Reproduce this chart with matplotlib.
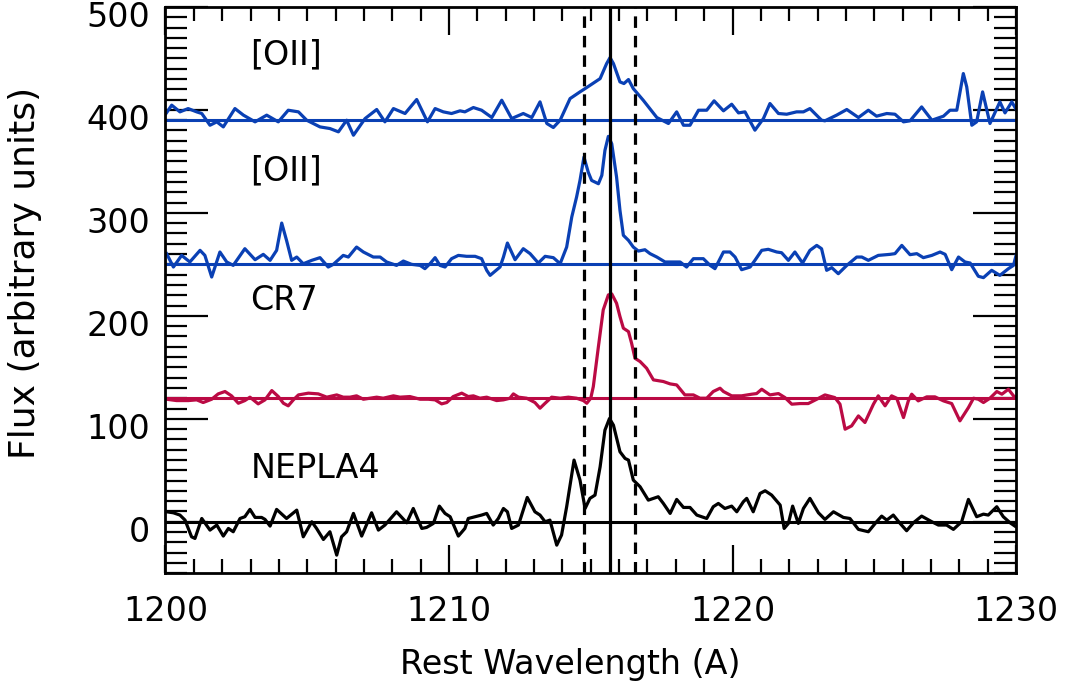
import numpy as np
import matplotlib
matplotlib.use("Agg")
import matplotlib.pyplot as plt
import matplotlib.transforms as mtransforms
from matplotlib.ticker import MultipleLocator

# ---- data (wavelength in A, flux in arbitrary units) ----
oii_top_wave = [1200.02, 1200.22, 1200.51, 1200.80, 1201.10, 1201.28, 1201.57, 1201.81, 1202.04,
                1202.45, 1202.75, 1203.16, 1203.57, 1203.98, 1204.33, 1204.69, 1204.98, 1205.45,
                1205.80, 1206.10, 1206.39, 1206.63, 1207.04, 1207.45, 1207.74, 1208.04, 1208.45,
                1208.86, 1209.24, 1209.51, 1209.80, 1210.09, 1210.39, 1210.56, 1210.86, 1211.15,
                1211.51, 1211.86, 1212.21, 1212.62, 1212.92, 1213.21, 1213.45, 1213.68, 1213.92,
                1214.27, 1214.62, 1214.80, 1215.03, 1215.33, 1215.56, 1215.68, 1215.80, 1216.03,
                1216.17, 1216.33, 1216.50, 1216.85, 1217.33, 1217.74, 1218.03, 1218.27, 1218.50,
                1218.80, 1219.09, 1219.35, 1219.68, 1219.97, 1220.21, 1220.44, 1220.79, 1221.09,
                1221.32, 1221.62, 1221.91, 1222.26, 1222.50, 1222.73, 1223.14, 1223.26, 1223.67,
                1224.03, 1224.44, 1224.79, 1225.08, 1225.44, 1225.73, 1226.03, 1226.26, 1226.67,
                1227.03, 1227.44, 1227.67, 1227.91, 1228.14, 1228.26, 1228.44, 1228.61, 1228.82,
                1229.08, 1229.43, 1229.61, 1229.85, 1230.02]
oii_top_flux = [396.5, 404.6, 398.1, 401.3, 398.1, 396.5, 385.1, 388.4, 383.5,
                401.3, 394.9, 388.4, 394.9, 388.4, 399.7, 398.1, 390.0, 383.5,
                381.9, 378.7, 390.0, 375.4, 391.6, 400.4, 388.4, 401.3, 396.5,
                410.1, 388.4, 401.3, 398.1, 396.5, 399.1, 398.1, 402.3, 399.7,
                392.6, 409.4, 391.6, 396.5, 392.6, 407.8, 386.8, 382.9, 390.0,
                411.0, 417.5, 420.7, 424.9, 430.4, 445.0, 450.8, 445.0, 427.2,
                425.6, 429.5, 420.7, 409.4, 392.6, 386.8, 398.1, 385.1, 385.1,
                399.7, 399.7, 408.8, 399.1, 405.5, 397.1, 398.1, 380.3, 391.6,
                406.2, 396.5, 395.8, 398.1, 398.1, 401.3, 390.0, 389.4, 394.9,
                400.4, 392.6, 399.7, 393.9, 396.5, 395.8, 388.4, 389.4, 402.9,
                390.0, 393.9, 399.7, 399.7, 435.3, 422.4, 385.1, 388.4, 417.5,
                386.8, 407.8, 397.1, 407.8, 399.7]

oii_mid_wave = [1200.04, 1200.28, 1200.57, 1200.86, 1201.22, 1201.39, 1201.63, 1201.92, 1202.16,
                1202.39, 1202.80, 1203.16, 1203.45, 1203.69, 1203.92, 1204.10, 1204.27, 1204.45,
                1204.63, 1204.86, 1205.16, 1205.45, 1205.74, 1205.92, 1206.27, 1206.45, 1206.74,
                1206.98, 1207.33, 1207.57, 1207.80, 1208.15, 1208.39, 1208.68, 1208.98, 1209.15,
                1209.33, 1209.51, 1209.68, 1209.86, 1210.09, 1210.33, 1210.62, 1210.92, 1211.15,
                1211.33, 1211.45, 1211.80, 1211.92, 1212.06, 1212.33, 1212.62, 1212.86, 1213.15,
                1213.39, 1213.68, 1213.92, 1214.15, 1214.33, 1214.50, 1214.62, 1214.76, 1214.91,
                1215.03, 1215.27, 1215.39, 1215.50, 1215.62, 1215.74, 1215.91, 1216.03, 1216.15,
                1216.33, 1216.50, 1216.68, 1216.91, 1217.09, 1217.33, 1217.62, 1217.91, 1218.15,
                1218.38, 1218.62, 1218.97, 1219.21, 1219.38, 1219.50, 1219.68, 1219.91, 1220.09,
                1220.32, 1220.62, 1220.79, 1221.03, 1221.26, 1221.56, 1221.73, 1221.97, 1222.20,
                1222.47, 1222.73, 1222.97, 1223.14, 1223.32, 1223.50, 1223.73, 1224.03, 1224.38,
                1224.56, 1224.79, 1225.14, 1225.55, 1225.73, 1225.97, 1226.26, 1226.50, 1226.73,
                1227.03, 1227.32, 1227.50, 1227.73, 1227.97, 1228.20, 1228.38, 1228.67, 1228.85,
                1229.14, 1229.43, 1229.73, 1229.91, 1230.00]
oii_mid_flux = [260.4, 247.4, 258.7, 252.3, 263.6, 258.7, 237.7, 262.0, 252.3,
                249.0, 265.2, 254.5, 259.7, 253.9, 263.6, 290.1, 273.3, 253.9,
                257.1, 250.6, 253.9, 256.5, 247.4, 250.0, 258.7, 257.1, 266.8,
                262.0, 257.1, 257.1, 252.3, 249.0, 253.2, 250.0, 249.0, 245.8,
                250.6, 256.5, 249.0, 247.4, 255.5, 258.7, 257.8, 257.8, 255.5,
                244.2, 239.3, 247.4, 257.1, 270.7, 254.5, 265.2, 260.4, 251.3,
                257.8, 256.5, 250.6, 266.8, 296.0, 315.4, 331.5, 354.2, 339.6,
                331.5, 328.3, 336.4, 360.7, 374.3, 367.1, 334.8, 302.4, 278.2,
                273.3, 266.8, 262.9, 264.2, 260.4, 257.1, 252.3, 252.3, 252.3,
                247.4, 255.5, 255.5, 249.0, 245.8, 252.3, 262.0, 262.0, 257.1,
                244.8, 247.4, 253.9, 263.6, 264.6, 262.0, 261.3, 253.9, 262.0,
                251.3, 263.6, 268.4, 265.2, 244.2, 246.8, 240.9, 249.0, 257.1,
                257.1, 253.9, 258.7, 259.7, 260.4, 268.4, 259.4, 260.4, 256.5,
                258.7, 262.0, 259.7, 244.8, 257.1, 252.3, 251.3, 238.4, 237.1,
                244.2, 239.3, 245.8, 249.0, 258.7]

cr7_wave = [1200.04, 1200.39, 1200.81, 1201.10, 1201.33, 1201.63, 1201.86, 1202.10, 1202.33,
            1202.57, 1202.80, 1202.98, 1203.27, 1203.51, 1203.75, 1203.98, 1204.16, 1204.33,
            1204.51, 1204.69, 1205.04, 1205.39, 1205.69, 1206.04, 1206.27, 1206.51, 1206.74,
            1206.98, 1207.21, 1207.45, 1207.68, 1208.04, 1208.27, 1208.62, 1208.98, 1209.27,
            1209.51, 1209.74, 1209.92, 1210.15, 1210.45, 1210.68, 1210.86, 1211.09, 1211.33,
            1211.68, 1211.92, 1212.15, 1212.27, 1212.45, 1212.74, 1213.03, 1213.21, 1213.39,
            1213.62, 1213.92, 1214.21, 1214.50, 1214.74, 1214.86, 1215.00, 1215.09, 1215.27,
            1215.44, 1215.62, 1215.74, 1215.91, 1216.03, 1216.15, 1216.33, 1216.44, 1216.56,
            1216.74, 1216.97, 1217.21, 1217.56, 1217.80, 1218.03, 1218.32, 1218.62, 1218.85,
            1219.09, 1219.32, 1219.56, 1219.68, 1219.97, 1220.32, 1220.68, 1220.85, 1221.03,
            1221.32, 1221.62, 1221.85, 1222.09, 1222.38, 1222.67, 1222.97, 1223.26, 1223.61,
            1223.79, 1223.97, 1224.20, 1224.44, 1224.67, 1224.97, 1225.14, 1225.38, 1225.61,
            1225.79, 1226.03, 1226.20, 1226.32, 1226.55, 1226.85, 1227.14, 1227.44, 1227.73,
            1228.02, 1228.32, 1228.50, 1228.67, 1228.85, 1229.08, 1229.32, 1229.50, 1229.73,
            1229.91, 1230.00]
cr7_flux = [119.0, 117.7, 117.7, 118.4, 115.8, 119.0, 124.2, 126.5, 122.3,
            115.1, 117.7, 121.0, 114.5, 118.4, 127.4, 121.6, 115.1, 112.6,
            118.4, 123.2, 124.9, 124.2, 121.0, 123.2, 121.0, 121.0, 122.3,
            119.0, 120.0, 121.0, 120.0, 122.3, 121.0, 121.6, 119.0, 119.0,
            118.4, 114.5, 115.8, 121.6, 124.9, 121.6, 122.3, 120.0, 121.0,
            117.7, 118.4, 120.0, 124.2, 121.0, 120.0, 115.8, 110.3, 115.1,
            121.0, 120.0, 121.0, 120.0, 117.7, 115.1, 120.0, 131.3, 170.2,
            205.8, 220.3, 221.3, 212.2, 199.3, 188.0, 184.7, 173.4, 158.8,
            155.6, 149.1, 137.8, 136.2, 133.9, 132.9, 123.2, 123.2, 120.0,
            120.0, 126.5, 129.7, 126.5, 122.3, 122.3, 123.9, 124.5, 128.7,
            123.2, 124.5, 120.6, 114.2, 114.8, 114.8, 119.0, 123.2, 120.6,
            114.2, 89.9, 93.1, 102.8, 96.4, 114.2, 122.3, 112.6, 122.3,
            120.0, 101.2, 117.4, 123.9, 117.4, 121.3, 121.3, 117.4, 114.8,
            98.0, 110.9, 120.0, 119.0, 115.8, 120.0, 126.5, 123.9, 128.7,
            122.3, 120.6]

nepla4_wave = [1200.04, 1200.28, 1200.51, 1200.69, 1200.92, 1201.04, 1201.28, 1201.57, 1201.81,
               1202.04, 1202.22, 1202.39, 1202.63, 1202.80, 1202.98, 1203.16, 1203.39, 1203.51,
               1203.69, 1203.92, 1204.27, 1204.63, 1204.86, 1205.16, 1205.33, 1205.57, 1205.80,
               1206.04, 1206.21, 1206.39, 1206.63, 1206.92, 1207.27, 1207.51, 1207.74, 1208.15,
               1208.51, 1208.74, 1209.04, 1209.21, 1209.45, 1209.66, 1209.86, 1210.04, 1210.33,
               1210.56, 1210.68, 1210.92, 1211.15, 1211.33, 1211.56, 1211.74, 1211.92, 1212.06,
               1212.21, 1212.45, 1212.76, 1213.03, 1213.21, 1213.39, 1213.56, 1213.80, 1213.97,
               1214.15, 1214.41, 1214.62, 1214.80, 1214.97, 1215.15, 1215.33, 1215.50, 1215.66,
               1215.80, 1216.03, 1216.21, 1216.33, 1216.50, 1216.74, 1217.03, 1217.21, 1217.38,
               1217.56, 1217.80, 1218.03, 1218.27, 1218.50, 1218.74, 1219.09, 1219.32, 1219.50,
               1219.73, 1219.97, 1220.15, 1220.38, 1220.50, 1220.73, 1220.97, 1221.15, 1221.38,
               1221.68, 1221.82, 1221.97, 1222.12, 1222.32, 1222.50, 1222.73, 1223.03, 1223.26,
               1223.56, 1223.91, 1224.14, 1224.44, 1224.79, 1225.08, 1225.26, 1225.44, 1225.67,
               1225.91, 1226.14, 1226.38, 1226.67, 1227.03, 1227.26, 1227.55, 1227.79, 1228.08,
               1228.32, 1228.61, 1228.85, 1229.02, 1229.32, 1229.55, 1229.79, 1229.96]
nepla4_flux = [9.7, 8.7, 6.5, 1.6, -14.6, -16.2, 3.2, -8.1, -3.2,
               -13.9, -6.5, -9.7, 3.2, 4.9, 12.0, 4.2, 4.2, 2.3,
               -4.2, 12.0, 3.2, 11.3, -14.6, 0.0, -6.5, -17.2, -9.7,
               -32.4, -14.6, -9.7, 8.1, -13.9, 8.7, -8.1, -3.2, 9.7,
               -1.0, 12.9, -6.5, -5.5, -1.6, 15.2, 8.1, 4.9, -13.9,
               -6.5, 3.2, 4.9, 6.5, 8.1, -3.2, 3.2, 12.9, 9.7,
               -6.5, -3.2, 23.6, 9.7, 6.5, 0.0, 1.6, -22.7, -12.9,
               14.6, 59.9, 40.5, 12.9, 22.7, 25.9, 53.4, 89.0, 100.3,
               93.8, 68.0, 61.5, 59.9, 40.5, 34.0, 21.0, 22.7, 24.3,
               17.8, 8.1, 21.7, 13.9, 13.9, 6.5, 3.2, 14.6, 17.8,
               12.9, 15.2, 9.7, 19.4, 22.7, 9.7, 27.5, 30.1, 25.9,
               16.2, -6.5, -1.6, 15.2, -1.6, 12.9, 22.7, 8.7, 2.3,
               9.7, 4.2, 3.2, -7.4, -9.7, 0.0, 5.5, 1.6, 6.5,
               -1.6, -8.7, -1.0, 5.5, 0.0, -3.2, -3.2, -7.4, 0.0,
               21.7, 4.9, 7.4, 6.5, 14.6, 4.9, -1.0, -4.2]

baselines = [390, 250, 120, 0]
labels = ["[OII]", "[OII]", "CR7", "NEPLA4"]
label_y = [453, 341, 215, 52]
lya = 1215.67
window = [1214.77, 1216.57]

blue = "#0a40b4"
red = "#bb0a44"

plt.rcParams['font.family'] = ['DejaVu Sans']

fig = plt.figure(figsize=(10.71, 6.94), dpi=100)
ax = fig.add_axes([0.1545, 0.174, 0.7942, 0.816])

series = [(oii_top_wave, oii_top_flux, blue),
          (oii_mid_wave, oii_mid_flux, blue),
          (cr7_wave, cr7_flux, red),
          (nepla4_wave, nepla4_flux, 'black')]

for (w, f, c), base, lab, ly in zip(series, baselines, labels, label_y):
    ax.plot(w, f, color=c, lw=2.3, solid_joinstyle='round')
    ax.axhline(base, color=c, lw=2.2)
    ax.text(1203.0, ly, lab, fontsize=24, va='center', ha='left')

ax.axvline(lya, color='black', lw=2.3)
for xw in window:
    ax.axvline(xw, color='black', lw=2.3, ls=(0, (3.6, 2.5)))

ax.set_xlim(1200, 1230)
ax.set_ylim(-50, 500)
ax.xaxis.set_major_locator(MultipleLocator(10))
ax.xaxis.set_minor_locator(MultipleLocator(1))
ax.yaxis.set_major_locator(MultipleLocator(100))
ax.yaxis.set_minor_locator(MultipleLocator(10))

ax.tick_params(axis='both', which='both', direction='in', top=True, right=True,
               width=1.6, labelsize=24, colors='black')
ax.tick_params(axis='y', which='major', length=31, pad=11)
ax.tick_params(axis='y', which='minor', length=16)
ax.tick_params(axis='x', which='major', length=20, pad=16)
ax.tick_params(axis='x', which='minor', length=10)
for s in ax.spines.values():
    s.set_linewidth(2.0)

# IDL-style: y labels sit a little below their ticks
shift = mtransforms.ScaledTranslation(0, -5 / 72, fig.dpi_scale_trans)
for lbl in ax.get_yticklabels():
    lbl.set_transform(lbl.get_transform() + shift)

ax.set_xlabel("Rest Wavelength (A)", fontsize=24)
ax.set_ylabel("Flux (arbitrary units)", fontsize=26)
ax.xaxis.set_label_coords(0.4755, -0.1325)
ax.yaxis.set_label_coords(-0.145, 0.53)

fig.savefig("out.png", dpi=100)
